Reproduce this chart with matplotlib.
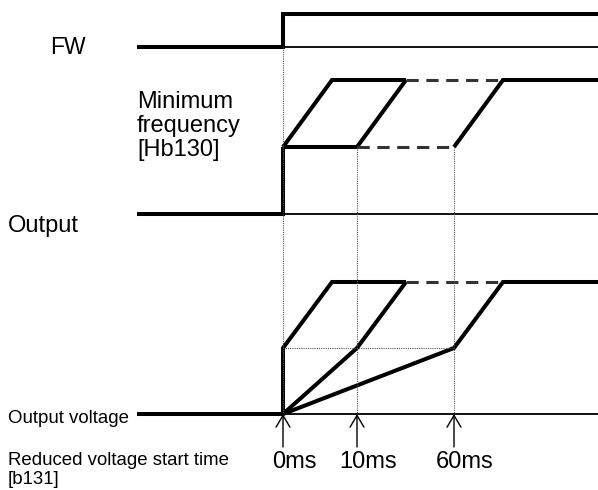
import matplotlib
matplotlib.use('Agg')
import matplotlib.pyplot as plt

plt.rcParams['font.family'] = ['Liberation Sans', 'DejaVu Sans']

# horizontal positions on the diagram (schematic time axis)
x_left = 137
t_start = 283          # FW goes on, 0 ms
t_10 = 357             # 10 ms
t_60 = 454             # 60 ms
ramp = 49              # width of one acceleration ramp
x_right = 598

# vertical levels of each trace
fw_low, fw_high = 47.5, 14
f_base, f_min, f_max = 214, 147, 80
v_base, v_mid, v_top = 414, 348, 282

delay_labels = ['0ms', '10ms', '60ms']
delay_pos = [t_start, t_10, t_60]

THICK = 2.9
THIN = 1.3


def main() -> None:
    fig = plt.figure(figsize=(5.98, 4.9), dpi=100)
    ax = fig.add_axes([0, 0, 1, 1])
    ax.set_xlim(0, 598)
    ax.set_ylim(490, 0)
    ax.axis('off')

    k = dict(color='black', lw=THICK, solid_joinstyle='miter', solid_capstyle='butt')
    dash = dict(color='#333333', lw=2.2, dashes=(4, 2.5))
    dot = dict(color='#555555', lw=0.8, linestyle=(0, (1, 1)))

    # FW signal
    ax.plot([x_left, t_start, t_start, x_right], [fw_low, fw_low, fw_high, fw_high], **k)
    ax.plot([t_start, x_right], [fw_low, fw_low], color='black', lw=THIN)

    # output frequency
    ax.plot([x_left, t_start, t_start], [f_base, f_base, f_min], **k)
    ax.plot([t_start, x_right], [f_base, f_base], color='black', lw=THIN)
    ax.plot([t_start, t_start + ramp, t_10 + ramp], [f_min, f_max, f_max], **k)
    ax.plot([t_start, t_10, t_10 + ramp], [f_min, f_min, f_max], **k)
    ax.plot([t_10, t_60], [f_min, f_min], **dash)
    ax.plot([t_10 + ramp, t_60 + ramp], [f_max, f_max], **dash)
    ax.plot([t_60, t_60 + ramp, x_right], [f_min, f_max, f_max], **k)

    # output voltage
    ax.plot([x_left, t_start], [v_base, v_base], **k)
    ax.plot([t_start, x_right], [v_base, v_base], color='black', lw=THIN)
    ax.plot([t_start, t_start, t_start + ramp, t_10 + ramp],
            [v_base, v_mid, v_top, v_top], **k)
    ax.plot([t_start, t_10, t_10 + ramp], [v_base, v_mid, v_top], **k)
    ax.plot([t_10 + ramp, t_60 + ramp], [v_top, v_top], **dash)
    ax.plot([t_start, t_60, t_60 + ramp, x_right], [v_base, v_mid, v_top, v_top], **k)
    ax.plot([t_start, t_60], [v_mid, v_mid], **dot)

    # dotted guides
    ax.plot([t_start, t_start], [fw_low, v_base], **dot)
    ax.plot([t_10, t_10], [f_min, v_base], **dot)
    ax.plot([t_60, t_60], [f_min, v_base], **dot)

    # delay arrows and labels
    for lab, x in zip(delay_labels, delay_pos):
        ax.annotate('', xy=(x, v_base), xytext=(x, v_base + 33),
                    arrowprops=dict(arrowstyle='->,head_length=0.85,head_width=0.5',
                                    lw=1.0, color='black', mutation_scale=10,
                                    shrinkA=0, shrinkB=0))
        ax.text(x + 11, 462, lab, fontsize=17, ha='center', va='center')

    ax.text(50, 47, 'FW', fontsize=16.5, va='center')
    ax.text(x_left, 126, 'Minimum\nfrequency\n[Hb130]', fontsize=17, va='center',
            linespacing=1.1)
    ax.text(8, 226, 'Output', fontsize=17, va='center')
    ax.text(8, 418, 'Output voltage', fontsize=13.4, va='center')
    ax.text(8, 470, 'Reduced voltage start time\n[b131]', fontsize=13.4, va='center',
            linespacing=1.12)

    fig.savefig('out.png', dpi=100)


if __name__ == '__main__':
    main()
